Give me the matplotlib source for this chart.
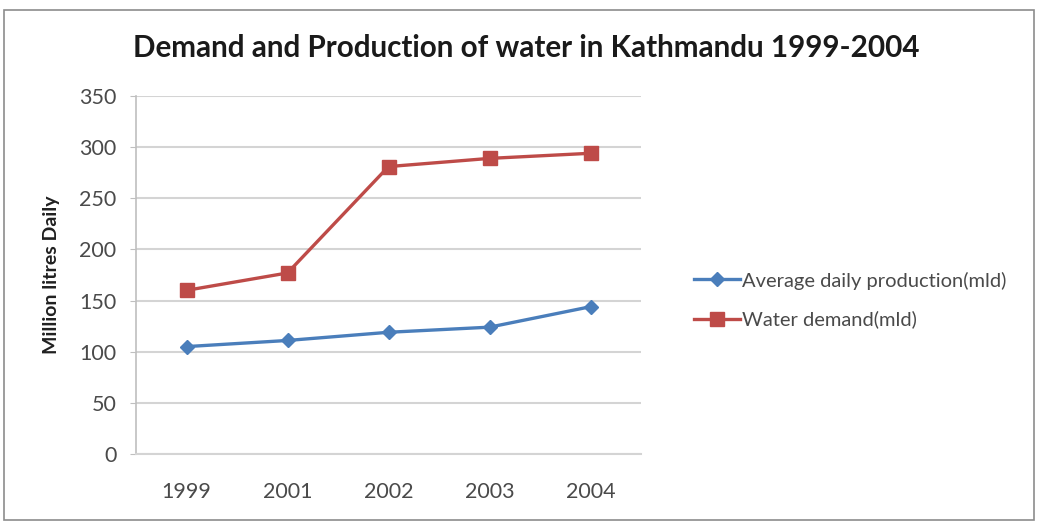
import matplotlib
matplotlib.use('Agg')
import matplotlib.pyplot as plt
from matplotlib.patches import Rectangle
import numpy as np

plt.rcParams['font.family'] = ['Lato', 'DejaVu Sans']

years = ['1999', '2001', '2002', '2003', '2004']
production = [105, 111, 119, 124, 144]
demand = [160, 177, 281, 289, 294]
yticks = [0, 50, 100, 150, 200, 250, 300, 350]

C_PROD = '#4A7EBB'
C_DEM = '#BE4B48'
C_GRID = '#D4D4D4'
C_TEXT = '#4A4A4A'

fig = plt.figure(figsize=(10.38, 5.23), dpi=100)
fig.patch.set_facecolor('white')

# outer chart frame
fig.patches.append(Rectangle((0.004, 0.006), 0.992, 0.975, transform=fig.transFigure,
                             fill=False, edgecolor='#8C8C8C', linewidth=1.2))

ax = fig.add_axes([136 / 1038, 1 - 454 / 523, (641 - 136) / 1038, (454 - 96) / 523])
x = np.arange(len(years))

ax.plot(x, production, color=C_PROD, linewidth=2.4, marker='D', markersize=7,
        label='Average daily production(mld)', zorder=3)
ax.plot(x, demand, color=C_DEM, linewidth=2.4, marker='s', markersize=10,
        label='Water demand(mld)', zorder=3)

ax.set_xlim(-0.5, len(years) - 0.5)
ax.set_ylim(0, 350)
ax.set_yticks(yticks)
ax.set_xticks(x)
ax.set_xticklabels(years)
ax.yaxis.grid(True, color=C_GRID, linewidth=1.5)
ax.set_axisbelow(True)

for s in ['top', 'right']:
    ax.spines[s].set_visible(False)
ax.spines['left'].set_color('#BFBFBF')
ax.spines['bottom'].set_color(C_GRID)
ax.spines['left'].set_linewidth(1.2)
ax.spines['bottom'].set_linewidth(1.5)
ax.tick_params(axis='y', length=4, color='#BFBFBF', labelsize=15.5, labelcolor=C_TEXT, pad=10)
ax.tick_params(axis='x', length=0, labelsize=15.5, labelcolor=C_TEXT, pad=20)

ax.set_ylabel('Million litres Daily', fontsize=14, fontweight='bold', color='#202020', labelpad=14)

fig.text(526 / 1038, 1 - 48 / 523, 'Demand and Production of water in Kathmandu 1999-2004',
         ha='center', va='center', fontsize=21.3, fontweight='bold', color='#1a1a1a')

fig.legend(loc='center left', bbox_to_anchor=(676 / 1038, 1 - 300 / 523), frameon=False,
           fontsize=14.5, handlelength=2.3, handletextpad=0.1, labelspacing=1.05,
           labelcolor=C_TEXT)

plt.savefig('out.png', dpi=100, facecolor='white')
plt.close()
